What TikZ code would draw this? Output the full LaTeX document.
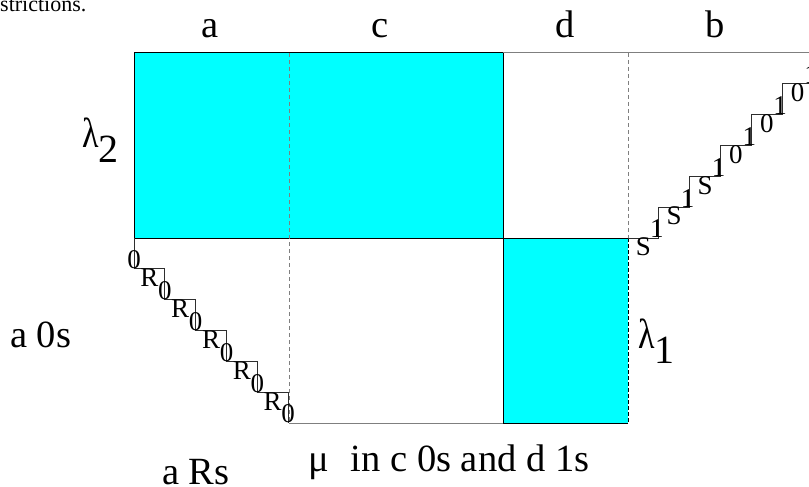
\documentclass[tikz,border=0pt]{standalone}
\usepackage{fontspec}
\setmainfont{Liberation Serif}
\usetikzlibrary{positioning}
\definecolor{blockCyan}{HTML}{00FFFF}
\definecolor{guideGrey}{HTML}{7F7F7F}
\definecolor{stairGrey}{HTML}{2E2E2E}

\newcommand{\stair}{30.833}
\newcommand{\lam}{\scalebox{0.85}[1.05]{λ}}

\begin{document}
\begin{tikzpicture}[
  x=1pt, y=-1pt,
  every node/.style={inner sep=0pt, font=\fontsize{38.5}{38.5}\selectfont},
  block/.style={draw=black, line width=1pt, fill=blockCyan},
  guide/.style={draw=guideGrey, line width=1pt, dash pattern=on 4pt off 3pt},
  edge/.style={draw=guideGrey, line width=1pt},
  stairs/.style={draw=stairGrey, line width=0.8pt},
  stairlabel/.style={font=\fontsize{27}{27}\selectfont},
  lambda/.style={anchor=base west, font=\fontsize{40}{40}\selectfont},
  textlabel/.style={anchor=base west}
]
\clip (0,0) rectangle (809,487);

% cut-off line of the page above
\node[anchor=base west, font=\fontsize{22}{22}\selectfont] (caption) at (0,12) {strictions.};

% column names
\node[anchor=base] (colA) at (210,38) {a};
\node[anchor=base] (colC) at (380,38) {c};
\node[anchor=base] (colD) at (565,38) {d};
\node[anchor=base] (colB) at (715,38) {b};

% lambda 2 block and frame lines
\draw[block] (134,53) rectangle (503,238);
\draw[edge] (503,53) -- (809,53);
\draw[guide] (289,53) -- (289,423);
\draw[guide] (628,53) -- (628,238);
\draw[edge] (289,423) -- (503,423);

% lambda 1 block
\fill[blockCyan] (503,238) rectangle (628,423);
\draw[black, line width=1pt] (628,238) -- (503,238) -- (503,423) -- (628,423);
\draw[black, line width=1pt, dash pattern=on 4pt off 2pt] (628,238) -- (628,423);

% left staircase
\draw[stairs] (134,238) \foreach \i in {0,...,4} { -- ++(0,\stair) -- ++(\stair,0) } -- ++(0,\stair);
\foreach \i in {0,...,5}
  \node[stairlabel] (riserL\i) at ({134+\i*\stair},{238+(\i+1)*\stair-9}) {0};
\foreach \i in {0,...,4}
  \node[stairlabel] (treadL\i) at ({134+(\i+0.5)*\stair},{238+(\i+1)*\stair+9}) {R};

% right staircase
\draw[stairs] (628,238) \foreach \i in {0,...,5} { -- ++(\stair,0) -- ++(0,-\stair) } -- ++(\stair,0);
\foreach \t [count=\i from 0] in {S,S,S,0,0,0}
  \node[stairlabel] (treadR\i) at ({628+(\i+0.5)*\stair},{238-\i*\stair+9}) {\t};
\foreach \i in {1,...,6}
  \node[stairlabel] (riserR\i) at ({628+\i*\stair-2},{238-(\i-1)*\stair-9}) {1};

% block names
\node[lambda] (lamTwo) at (82,147) {\lam\raisebox{-15pt}{2}};
\node[lambda] (lamOne) at (638,348) {\lam\raisebox{-15pt}{1}};

% side and bottom texts
\node[textlabel] (zerosA) at (10,347) {a 0s};
\node[textlabel] (restsA) at (162,484) {a Rs};
\node[textlabel] (muText) at (308,471) {μ\hspace{22pt}in c 0s and d 1s};

\end{tikzpicture}
\end{document}
